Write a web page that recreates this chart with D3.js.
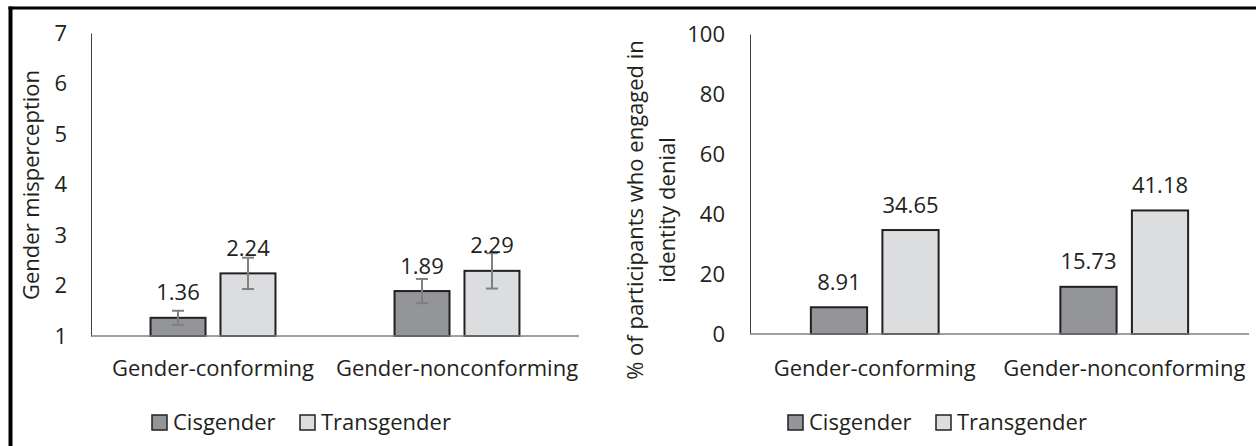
<!DOCTYPE html>
<html>
<head>
<meta charset="utf-8">
<script src="https://cdn.jsdelivr.net/npm/d3@7"></script>
<style>
  body { margin: 0; background: #fff; }
  svg { display: block; font-family: "Open Sans", sans-serif; }
</style>
</head>
<body>
<svg id="chart" width="1256" height="446"></svg>
<script>
// data
const groups = ["Gender-conforming", "Gender-nonconforming"];
const series = ["Cisgender", "Transgender"];

const cisMisperception = [1.36, 1.89];
const transMisperception = [2.24, 2.29];
const cisMisperceptionErr = [0.14, 0.24];
const transMisperceptionErr = [0.31, 0.35];
const misperceptionTicks = [1, 2, 3, 4, 5, 6, 7];

const cisDenial = [8.91, 15.73];
const transDenial = [34.65, 41.18];
const denialTicks = [0, 20, 40, 60, 80, 100];

const colors = { Cisgender: "#939598", Transgender: "#dcdddf" };
const ink = "#231f20";

const svg = d3.select("#chart");

// outer frame (only top and left edges show in the crop)
svg.append("line").attr("x1", 8.5).attr("x2", 1256).attr("y1", 8).attr("y2", 8)
  .attr("stroke", "#000").attr("stroke-width", 3);
svg.append("line").attr("x1", 10.5).attr("x2", 10.5).attr("y1", 6.5).attr("y2", 446)
  .attr("stroke", "#000").attr("stroke-width", 4);

function drawPanel(opt) {
  const g = svg.append("g");

  const x0 = d3.scaleBand().domain(groups).range([opt.left, opt.right]).padding(0);
  const inner = x0.bandwidth() * 0.512;
  const x1 = d3.scaleBand().domain(series)
    .range([(x0.bandwidth() - inner) / 2, (x0.bandwidth() + inner) / 2])
    .paddingInner(0.214);
  const y = d3.scaleLinear().domain(opt.domain).range([opt.bottom, opt.top]);

  // y axis
  const yAxis = g.append("g")
    .attr("transform", `translate(${opt.left},0)`)
    .call(d3.axisLeft(y).tickValues(opt.ticks).tickFormat(d3.format("d"))
      .tickSize(0).tickSizeOuter(0).tickPadding(opt.pad));
  yAxis.select(".domain").attr("stroke", "#404040").attr("stroke-width", 1);
  yAxis.selectAll("text").attr("font-family", "Open Sans").attr("font-size", 22).attr("fill", ink);

  // bars
  const rows = groups.map((grp, i) => series.map((s) => ({
    group: grp,
    key: s,
    value: s === "Cisgender" ? opt.cis[i] : opt.trans[i],
    err: opt.cisErr ? (s === "Cisgender" ? opt.cisErr[i] : opt.transErr[i]) : null,
  })));

  const grp = g.selectAll(".grp").data(rows).join("g")
    .attr("transform", (d, i) => `translate(${x0(groups[i])},0)`);

  grp.selectAll("rect").data((d) => d).join("rect")
    .attr("x", (d) => x1(d.key))
    .attr("width", x1.bandwidth())
    .attr("y", (d) => y(d.value))
    .attr("height", (d) => y(opt.domain[0]) - y(d.value))
    .attr("fill", (d) => colors[d.key])
    .attr("stroke", ink)
    .attr("stroke-width", 2);

  // error bars
  if (opt.cisErr) {
    const eb = grp.selectAll(".err").data((d) => d).join("g").attr("class", "err")
      .attr("stroke", "#808080").attr("stroke-width", 2);
    const cx = (d) => x1(d.key) + x1.bandwidth() / 2;
    eb.append("line").attr("x1", cx).attr("x2", cx)
      .attr("y1", (d) => y(d.value + d.err)).attr("y2", (d) => y(d.value - d.err));
    eb.append("line").attr("x1", (d) => cx(d) - 6).attr("x2", (d) => cx(d) + 6)
      .attr("y1", (d) => y(d.value + d.err)).attr("y2", (d) => y(d.value + d.err));
    eb.append("line").attr("x1", (d) => cx(d) - 6).attr("x2", (d) => cx(d) + 6)
      .attr("y1", (d) => y(d.value - d.err)).attr("y2", (d) => y(d.value - d.err));
  }

  // value labels
  grp.selectAll(".val").data((d) => d).join("text").attr("class", "val")
    .attr("x", (d) => x1(d.key) + x1.bandwidth() / 2)
    .attr("y", (d) => y(d.value) - 17.5)
    .attr("text-anchor", "middle")
    .attr("font-size", 22)
    .attr("fill", ink)
    .text((d) => d3.format(".2f")(d.value));

  // baseline
  g.append("line")
    .attr("x1", opt.left).attr("x2", opt.right)
    .attr("y1", y(opt.domain[0])).attr("y2", y(opt.domain[0]))
    .attr("stroke", "#808080").attr("stroke-width", 1.5);

  // category labels
  const xAxis = g.append("g")
    .attr("transform", `translate(0,${y(opt.domain[0])})`)
    .call(d3.axisBottom(x0).tickSize(0).tickPadding(0));
  xAxis.select(".domain").remove();
  xAxis.selectAll("text").attr("dy", null).attr("y", 376 - y(opt.domain[0]))
    .attr("font-family", "Open Sans").attr("font-size", 22).attr("fill", ink);

  // y title
  const title = g.append("text")
    .attr("transform", `translate(${opt.titleX},${opt.titleY}) rotate(-90)`)
    .attr("text-anchor", "middle")
    .attr("font-size", 22)
    .attr("fill", ink);
  opt.title.forEach((line, i) => {
    title.append("tspan").attr("x", 0).attr("dy", i === 0 ? 0 : 32).text(line);
  });

  // legend
  const lg = g.append("g").attr("transform", `translate(${opt.legendX},0)`);
  const items = lg.selectAll("g").data(series).join("g")
    .attr("transform", (d, i) => `translate(${i * 148},0)`);
  items.append("rect").attr("x", 0).attr("y", 415).attr("width", 15).attr("height", 15)
    .attr("fill", (d) => colors[d]).attr("stroke", ink).attr("stroke-width", 1.5);
  items.append("text").attr("x", 21).attr("y", 430)
    .attr("font-size", 22).attr("fill", ink).text((d) => d);
}

drawPanel({
  left: 91, right: 579, top: 33, bottom: 336,
  domain: [1, 7], ticks: misperceptionTicks, pad: 24,
  cis: cisMisperception, trans: transMisperception,
  cisErr: cisMisperceptionErr, transErr: transMisperceptionErr,
  title: ["Gender misperception"], titleX: 39, titleY: 185,
  legendX: 152,
});

drawPanel({
  left: 750, right: 1249, top: 34, bottom: 334,
  domain: [0, 100], ticks: denialTicks, pad: 25,
  cis: cisDenial, trans: transDenial,
  title: ["% of participants who engaged in", "identity denial"], titleX: 643, titleY: 210,
  legendX: 788,
});
</script>
</body>
</html>
